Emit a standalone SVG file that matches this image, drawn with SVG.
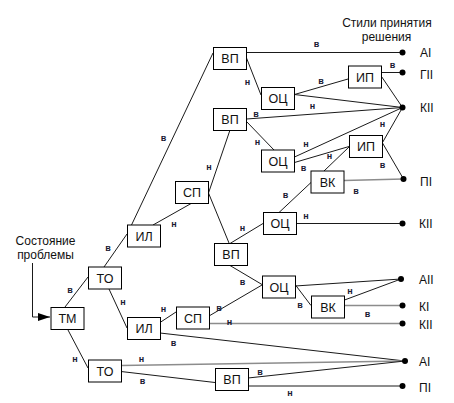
<svg xmlns="http://www.w3.org/2000/svg" width="454" height="403" viewBox="0 0 454 403">
<style>
.b rect{fill:#fff;stroke:#000;stroke-width:1}
.b text,.t{font-family:"Liberation Sans",Arial,sans-serif;font-size:12px;fill:#111}
.b text{text-anchor:middle;font-size:12.5px}
.e line,.e path{stroke:#1a1a1a;stroke-width:1;fill:none}
.e .g{stroke:#8c8c8c;stroke-width:1.6}
.l{font-family:"Liberation Sans",Arial,sans-serif;font-size:9px;font-weight:bold;fill:#1a1a33;text-anchor:middle}
.d{fill:#000}
</style>
<defs>
<marker id="ar" viewBox="0 0 12 8" refX="12" refY="4" markerWidth="12" markerHeight="8" markerUnits="userSpaceOnUse" orient="auto">
<path d="M0,0L12,4L0,8z" fill="#000"/>
</marker>
</defs>
<rect width="454" height="403" fill="#fff"/>
<g id="connectors" class="e">
<path d="M32.5,263V317H50" marker-end="url(#ar)"/>
<line x1="65" y1="307" x2="88" y2="277"/>
<line x1="68" y1="330" x2="88" y2="368"/>
<line x1="104" y1="267" x2="127" y2="234"/>
<line x1="109" y1="289" x2="127" y2="328"/>
<line x1="131.5" y1="225" x2="213" y2="53"/>
<line x1="153" y1="225" x2="192" y2="203"/>
<line x1="208.5" y1="193" x2="230" y2="130"/>
<line x1="208.5" y1="193" x2="229" y2="243"/>
<line x1="246.5" y1="52.5" x2="402.5" y2="52.5"/>
<line x1="246.5" y1="58" x2="261" y2="95"/>
<line x1="294.5" y1="94.5" x2="348" y2="79"/>
<line x1="294.5" y1="94.5" x2="402.5" y2="107.5"/>
<line x1="381.5" y1="72.5" x2="402.5" y2="72.5"/>
<line x1="381.5" y1="76.5" x2="402.5" y2="107.5"/>
<line x1="246.5" y1="119" x2="402.5" y2="107.5"/>
<line x1="246.5" y1="121.5" x2="274" y2="150"/>
<line x1="294.5" y1="157" x2="402.5" y2="107.5"/>
<line x1="294.5" y1="162.5" x2="349" y2="146.5"/>
<line x1="324" y1="171" x2="349" y2="147"/>
<line x1="382.5" y1="142.5" x2="402.5" y2="107.5"/>
<line x1="382.5" y1="143" x2="403.5" y2="179"/>
<line class="g" x1="344" y1="180.5" x2="403.5" y2="179"/>
<line x1="279" y1="212.5" x2="311" y2="182.5"/>
<line x1="230" y1="243.5" x2="263" y2="223.5"/>
<line x1="296" y1="223.5" x2="402.5" y2="223.5"/>
<line x1="230" y1="265.5" x2="262" y2="284.5"/>
<line x1="209" y1="316" x2="262" y2="285"/>
<line class="g" x1="209" y1="323.5" x2="402.5" y2="323.5"/>
<line x1="295" y1="286" x2="401" y2="279"/>
<line x1="344.5" y1="300" x2="401" y2="279"/>
<line x1="295.5" y1="285" x2="311" y2="305.5"/>
<line class="g" x1="344.5" y1="305.5" x2="402.5" y2="305.5"/>
<line x1="160" y1="322.5" x2="176" y2="312"/>
<line x1="160" y1="333" x2="405" y2="361"/>
<line class="g" x1="121" y1="365.5" x2="405" y2="361"/>
<line x1="121" y1="371.5" x2="215" y2="382.5"/>
<line x1="248" y1="378" x2="405" y2="361"/>
<line x1="248" y1="386" x2="402.5" y2="386"/>
</g>
<g id="edge-labels">
<text class="l" x="70" y="293">в</text>
<text class="l" x="75" y="362">н</text>
<text class="l" x="108" y="251">в</text>
<text class="l" x="123" y="305">н</text>
<text class="l" x="163.5" y="141">в</text>
<text class="l" x="174" y="227">н</text>
<text class="l" x="209" y="170">н</text>
<text class="l" x="316.5" y="47">в</text>
<text class="l" x="247.5" y="85">н</text>
<text class="l" x="321" y="84">в</text>
<text class="l" x="312.5" y="109">н</text>
<text class="l" x="392.5" y="68">в</text>
<text class="l" x="256" y="116.5">в</text>
<text class="l" x="257.5" y="145">н</text>
<text class="l" x="306" y="147">н</text>
<text class="l" x="303.5" y="171">в</text>
<text class="l" x="329.5" y="159">н</text>
<text class="l" x="382.5" y="127">н</text>
<text class="l" x="382.5" y="168">в</text>
<text class="l" x="356" y="194">в</text>
<text class="l" x="285.5" y="197.5">в</text>
<text class="l" x="242.5" y="231">н</text>
<text class="l" x="306" y="219">н</text>
<text class="l" x="242.5" y="285">в</text>
<text class="l" x="219" y="310.5">в</text>
<text class="l" x="229.5" y="325">н</text>
<text class="l" x="350" y="294">н</text>
<text class="l" x="300" y="307.5">в</text>
<text class="l" x="367.5" y="316.5">в</text>
<text class="l" x="163.5" y="311.5">н</text>
<text class="l" x="173.5" y="346">в</text>
<text class="l" x="141.5" y="362">н</text>
<text class="l" x="142.5" y="384">в</text>
<text class="l" x="260" y="375">в</text>
<text class="l" x="290" y="396">н</text>
</g>
<g id="TM" class="b"><rect x="51" y="307.5" width="33" height="22"/><text x="67.5" y="323">ТМ</text></g>
<g id="TO1" class="b"><rect x="88.5" y="267" width="33" height="22"/><text x="105" y="282.5">ТО</text></g>
<g id="TO2" class="b"><rect x="88.5" y="360" width="33" height="22"/><text x="105" y="375.5">ТО</text></g>
<g id="IL1" class="b"><rect x="127.5" y="225" width="33" height="22"/><text x="144" y="240.5">ИЛ</text></g>
<g id="IL2" class="b"><rect x="127.5" y="317.5" width="33" height="22"/><text x="144" y="333">ИЛ</text></g>
<g id="SP1" class="b"><rect x="175.5" y="181.5" width="33" height="22"/><text x="192" y="197">СП</text></g>
<g id="SP2" class="b"><rect x="176.5" y="307" width="33" height="22"/><text x="193" y="322.5">СП</text></g>
<g id="VP1" class="b"><rect x="213.5" y="47.5" width="33" height="22"/><text x="230" y="63">ВП</text></g>
<g id="VP2" class="b"><rect x="213.5" y="108.5" width="33" height="22"/><text x="230" y="124">ВП</text></g>
<g id="VP3" class="b"><rect x="214.5" y="243.5" width="33" height="22"/><text x="231" y="259">ВП</text></g>
<g id="VP4" class="b"><rect x="215.5" y="368.5" width="33" height="22"/><text x="232" y="384">ВП</text></g>
<g id="OC1" class="b"><rect x="261.5" y="87.5" width="33" height="22"/><text x="278" y="103">ОЦ</text></g>
<g id="OC2" class="b"><rect x="261.5" y="150" width="33" height="22"/><text x="278" y="165.5">ОЦ</text></g>
<g id="OC3" class="b"><rect x="263.5" y="212.5" width="33" height="22"/><text x="280" y="228">ОЦ</text></g>
<g id="OC4" class="b"><rect x="262.5" y="276" width="33" height="22"/><text x="279" y="291.5">ОЦ</text></g>
<g id="IP1" class="b"><rect x="348.5" y="66" width="33" height="22"/><text x="365" y="81.5">ИП</text></g>
<g id="IP2" class="b"><rect x="349.5" y="135.5" width="33" height="22"/><text x="366" y="151">ИП</text></g>
<g id="VK1" class="b"><rect x="311" y="171" width="33" height="22"/><text x="327.5" y="186.5">ВК</text></g>
<g id="VK2" class="b"><rect x="311.5" y="296" width="33" height="22"/><text x="328" y="311.5">ВК</text></g>
<g id="outcomes">
<circle class="d" cx="402.5" cy="52.5" r="3"/><text class="t" x="420" y="57">AI</text>
<circle class="d" cx="402.5" cy="72.5" r="3"/><text class="t" x="420" y="78.5">ГII</text>
<circle class="d" cx="402.5" cy="107.5" r="3"/><text class="t" x="420" y="111.5">КII</text>
<circle class="d" cx="403.5" cy="179" r="3"/><text class="t" x="420" y="185.5">ПI</text>
<circle class="d" cx="402.5" cy="223.5" r="3"/><text class="t" x="419" y="228">КII</text>
<circle class="d" cx="401" cy="279" r="3"/><text class="t" x="419" y="283.5">AII</text>
<circle class="d" cx="402.5" cy="305.5" r="3"/><text class="t" x="419" y="310.5">КI</text>
<circle class="d" cx="402.5" cy="323.5" r="3"/><text class="t" x="419" y="328.5">КII</text>
<circle class="d" cx="405" cy="361" r="3"/><text class="t" x="419" y="366">AI</text>
<circle class="d" cx="402.5" cy="386" r="3"/><text class="t" x="419" y="391.5">ПI</text>
</g>
<g id="titles">
<text class="t" x="387" y="27" text-anchor="middle">Стили принятия</text>
<text class="t" x="386.5" y="41" text-anchor="middle">решения</text>
<text class="t" x="45.5" y="245" text-anchor="middle">Состояние</text>
<text class="t" x="45.5" y="259" text-anchor="middle">проблемы</text>
</g>
</svg>
